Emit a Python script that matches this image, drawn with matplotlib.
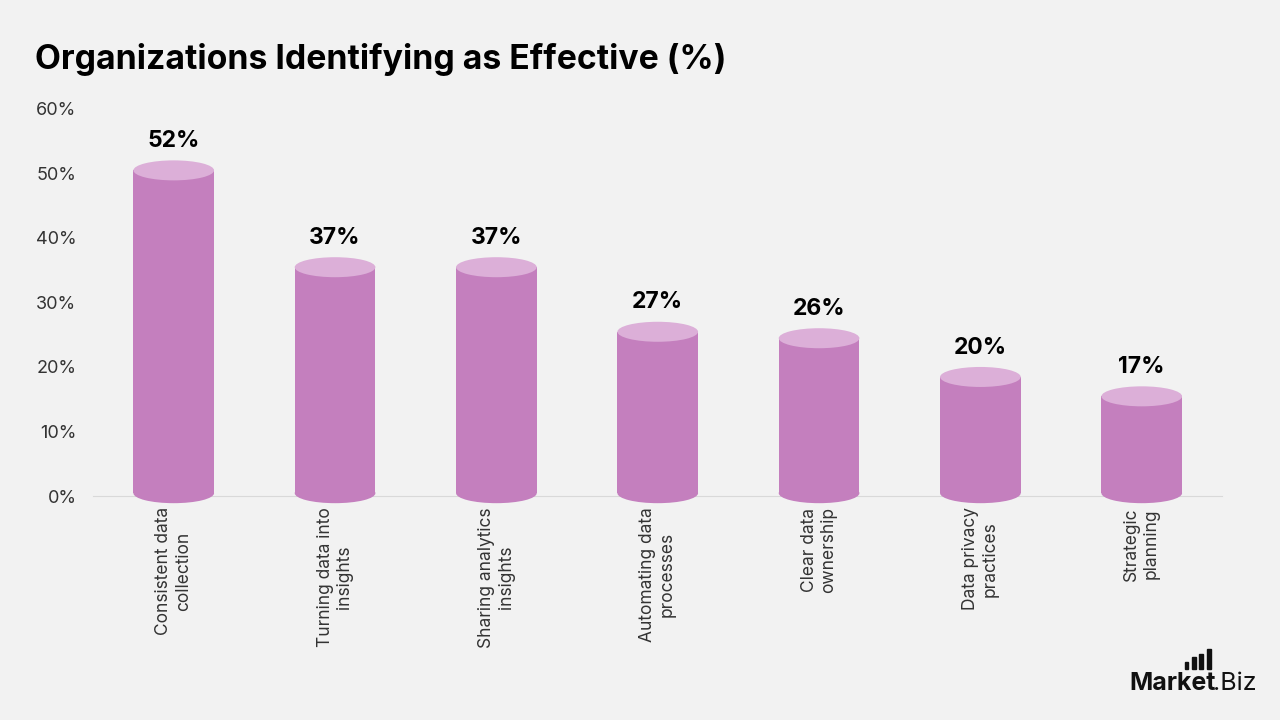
import matplotlib.pyplot as plt
from matplotlib.patches import Ellipse, Rectangle

categories = [
    "Consistent data\ncollection",
    "Turning data into\ninsights",
    "Sharing analytics\ninsights",
    "Automating data\nprocesses",
    "Clear data\nownership",
    "Data privacy\npractices",
    "Strategic\nplanning",
]
values = [52, 37, 37, 27, 26, 20, 17]
yticks = [0, 10, 20, 30, 40, 50, 60]

bg = "#f2f2f2"
body_color = "#c47fbe"
top_color = "#dcafd8"
font = ["Inter", "DejaVu Sans"]

plt.rcParams["font.family"] = font

fig = plt.figure(figsize=(12.8, 7.2), dpi=100, facecolor=bg)
ax = fig.add_axes([0.0727, 0.311, 0.8823, 0.538])
ax.set_facecolor(bg)

bar_w = 0.5
cap_h = 3.1  # ellipse height in % units
base = 0.45  # bottom ellipse centre

for i, v in enumerate(values):
    top = v - cap_h / 2
    # bottom ellipse
    ax.add_patch(Ellipse((i, base), bar_w, cap_h, color=body_color, lw=0, zorder=2, clip_on=False))
    # body
    ax.add_patch(Rectangle((i - bar_w / 2, base), bar_w, top - base, color=body_color, lw=0, zorder=2))
    # top ellipse
    ax.add_patch(Ellipse((i, top), bar_w, cap_h, color=top_color, lw=0, zorder=3))
    ax.annotate(f"{v}%", (i, v), xytext=(0, 6), textcoords="offset points",
                ha="center", va="bottom", fontsize=16.5, fontweight="bold", color="black")

ax.set_xlim(-0.5, len(values) - 0.5)
ax.set_ylim(0, 60)
ax.set_yticks(yticks)
ax.set_yticklabels([f"{t}%" for t in yticks], fontsize=13, color="#333333")
ax.set_xticks(range(len(categories)))
ax.set_xticklabels(categories, rotation=90, fontsize=12.5, color="#333333",
                   ha="center", va="top", multialignment="center")
ax.tick_params(axis="both", length=0)
ax.tick_params(axis="x", pad=8)
ax.tick_params(axis="y", pad=12)
for s in ["top", "right", "left"]:
    ax.spines[s].set_visible(False)
ax.spines["bottom"].set_color("#d9d9d9")
ax.spines["bottom"].set_zorder(1)

fig.text(0.027, 0.917, "Organizations Identifying as Effective (%)",
         fontsize=24.3, fontweight="bold", color="black", va="center", ha="left")

# logo
fig.text(0.8825, 0.035, "Market", fontsize=18, fontweight="bold", color="#111111", ha="left", va="bottom")
fig.text(0.9475, 0.035, ".Biz", fontsize=18, color="#111111", ha="left", va="bottom")
for k, hgt in enumerate([0.010, 0.016, 0.021, 0.028]):
    fig.patches.append(Rectangle((0.9255 + k * 0.0058, 0.071), 0.003, hgt,
                                 transform=fig.transFigure, color="#111111"))

fig.savefig("out.png", dpi=100, facecolor=bg)
